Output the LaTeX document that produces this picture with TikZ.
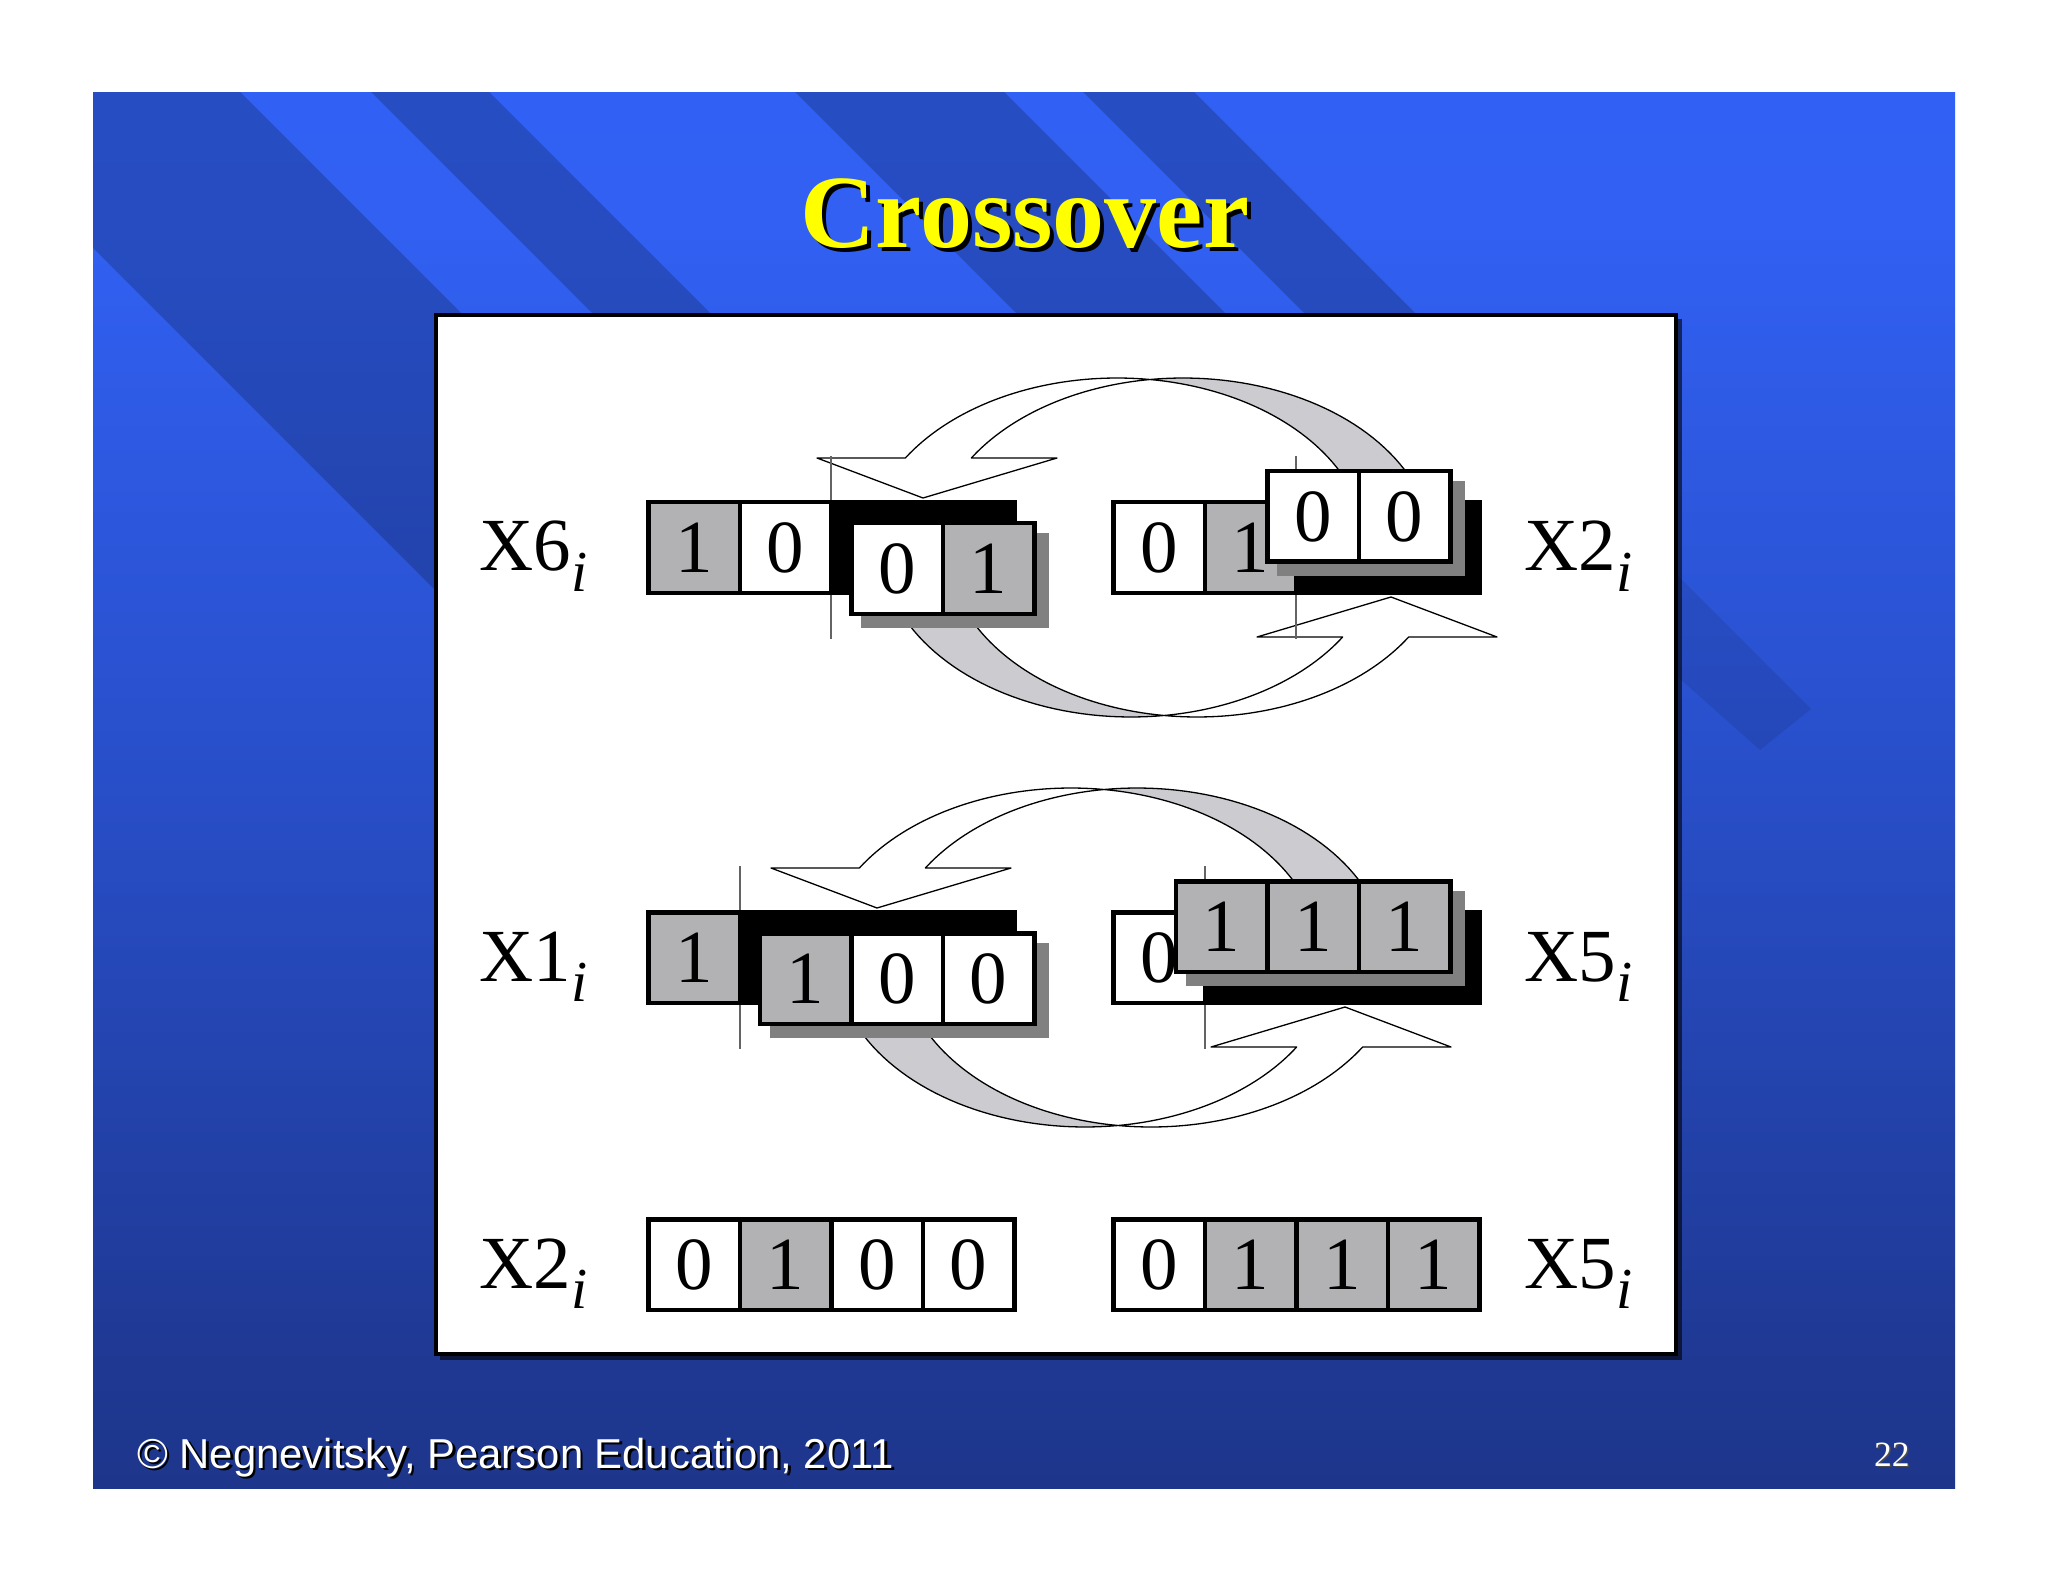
\documentclass[tikz,border=0pt]{standalone}
\usepackage{fontspec}
\setmainfont{Liberation Serif}
\newfontfamily\footfont{Liberation Sans}
\definecolor{cellgray}{RGB}{178,177,180}
\definecolor{shadowgray}{RGB}{128,128,128}
\definecolor{ribbongray}{RGB}{204,203,208}
\definecolor{cutgray}{RGB}{100,100,100}
\definecolor{bgA}{RGB}{51,102,255}
\definecolor{bgB}{RGB}{49,96,242}
\definecolor{bgC}{RGB}{40,78,200}
\definecolor{bgD}{RGB}{31,57,148}
\definecolor{bgE}{RGB}{25,44,114}
\definecolor{bgF}{RGB}{23,40,102}
\definecolor{titleyellow}{RGB}{255,255,0}
\pgfdeclareverticalshading{slidebg}{100bp}{color(0bp)=(bgF); color(12bp)=(bgE); color(30bp)=(bgD); color(50bp)=(bgC); color(70bp)=(bgB); color(100bp)=(bgA)}
\newcommand{\dgt}{\fontsize{37.5}{40}\selectfont}
\newcommand{\lblsub}[1]{\raisebox{-10pt}{\fontsize{29}{30}\selectfont\itshape #1}}
\newcommand{\ribbonhalf}{%
  \filldraw[ribbonline, fill=white]
    plot[domain=0:1, samples=40, variable=\t] ({-40+250*cos(212.15+65.44*\t)}, {1.5+171*sin(212.15+65.44*\t)})
    -- plot[domain=0:1, samples=40, variable=\t] ({26+250*cos(262.41-50.26*\t)}, {1.5+171*sin(262.41-50.26*\t)})
    -- (-100,-89.5) -- (-234,-49.5) -- (-340,-89.5) -- cycle;
  \filldraw[ribbonline, fill=ribbongray]
    plot[domain=0:1, samples=40, variable=\t] ({26+250*cos(262.41+82.59*\t)}, {1.5+171*sin(262.41+82.59*\t)})
    -- plot[domain=0:1, samples=40, variable=\t] ({-40+250*cos(345-67.41*\t)}, {1.5+171*sin(345-67.41*\t)})
    -- cycle;
}
\begin{document}
\begin{tikzpicture}[x=0.5pt,y=-0.5pt,
  cell/.style={draw=black, line width=2.25pt, minimum width=45.75pt, minimum height=45.25pt, inner sep=0pt, font=\dgt},
  cw/.style={cell, fill=white},
  cg/.style={cell, fill=cellgray},
  cb/.style={cell, fill=black},
  lbl/.style={anchor=base west, inner sep=0pt, font=\dgt},
  ribbonline/.style={draw=black, line width=0.65pt, line join=round},
  cutline/.style={draw=cutgray, line width=0.8pt},
  segshadow/.style={fill=shadowgray},
  stripe/.style={fill=black, opacity=0.2}]
\useasboundingbox (0,0) rectangle (2048,1582);
\fill[white] (0,0) rectangle (2048,1582);
% slide background
\shade[shading=slidebg] (93,93) rectangle (1955,1488);
\begin{scope}
  \clip (93,93) rectangle (1955,1488);
  \fill[stripe] (-155,0) -- (148,0) -- (1274,1126) -- (1122.5,1277.5) -- cycle;
  \fill[stripe] (279,0) -- (397,0) -- (1398.5,1001.5) -- (1339.5,1060.5) -- cycle;
  \fill[stripe] (703,0) -- (912,0) -- (1656,744) -- (1551.5,848.5) -- cycle;
  \fill[stripe] (991,0) -- (1102,0) -- (1650,548) -- (1595.5,604.5) -- cycle;
  \fill[black, opacity=0.09] (1640,538) -- (1811,709) -- (1760,750) -- (1585,594.5) -- cycle;
\end{scope}
% title
\node[anchor=base, inner sep=0pt, font=\fontsize{52}{56}\selectfont\bfseries, text=black] (titlesh) at (1029,252) {Crossover};
\node[anchor=base, inner sep=0pt, font=\fontsize{52}{56}\selectfont\bfseries, text=titleyellow] (title) at (1025,248) {Crossover};
% panel
\fill[black, opacity=0.6] (440,319) rectangle (1682,1360);
\draw[line width=2pt, fill=white] (436,315) rectangle (1676,1354);
% ---------------- row 1 ----------------
\begin{scope}[shift={(1157,547.5)}]
  \ribbonhalf
  \begin{scope}[rotate=180]\ribbonhalf\end{scope}
\end{scope}
\draw[cutline] (831.25,456) -- (831.25,639);
\draw[cutline] (1296.25,456) -- (1296.25,639);
\node[cg] (a1) at (694,547.5) {1};
\node[cw] (a2) at (785.5,547.5) {0};
\node[cb] (a3) at (877,547.5) {};
\node[cb] (a4) at (968.5,547.5) {};
\fill[segshadow] (861,533) rectangle (1048.5,628);
\node[cw] (a5) at (897,568.5) {0};
\node[cg] (a6) at (988.5,568.5) {1};
\node[cw] (b1) at (1159,547.5) {0};
\node[cg] (b2) at (1250.5,547.5) {1};
\node[cb] (b3) at (1342,547.5) {};
\node[cb] (b4) at (1433.5,547.5) {};
\fill[segshadow] (1277,481) rectangle (1464.5,576);
\node[cw] (b5) at (1313,516.5) {0};
\node[cw] (b6) at (1404.5,516.5) {0};
\node[lbl] (la) at (479,571) {X6\lblsub{i}};
\node[lbl] (lb) at (1524,571) {X2\lblsub{i}};
% ---------------- row 2 ----------------
\begin{scope}[shift={(1111,957.5)}]
  \ribbonhalf
  \begin{scope}[rotate=180]\ribbonhalf\end{scope}
\end{scope}
\draw[cutline] (739.75,866) -- (739.75,1049);
\draw[cutline] (1204.75,866) -- (1204.75,1049);
\node[cg] (c1) at (694,957.5) {1};
\node[cb] (c2) at (785.5,957.5) {};
\node[cb] (c3) at (877,957.5) {};
\node[cb] (c4) at (968.5,957.5) {};
\fill[segshadow] (769.5,943) rectangle (1048.5,1038);
\node[cg] (c5) at (805.5,978.5) {1};
\node[cw] (c6) at (897,978.5) {0};
\node[cw] (c7) at (988.5,978.5) {0};
\node[cw] (d1) at (1159,957.5) {0};
\node[cb] (d2) at (1250.5,957.5) {};
\node[cb] (d3) at (1342,957.5) {};
\node[cb] (d4) at (1433.5,957.5) {};
\fill[segshadow] (1185.5,891) rectangle (1464.5,986);
\node[cg] (d5) at (1221.5,926.5) {1};
\node[cg] (d6) at (1313,926.5) {1};
\node[cg] (d7) at (1404.5,926.5) {1};
\node[lbl] (lc) at (479,981) {X1\lblsub{i}};
\node[lbl] (ld) at (1524,981) {X5\lblsub{i}};
% ---------------- row 3 ----------------
\node[cw] (e1) at (694,1264.5) {0};
\node[cg] (e2) at (785.5,1264.5) {1};
\node[cw] (e3) at (877,1264.5) {0};
\node[cw] (e4) at (968.5,1264.5) {0};
\node[cw] (f1) at (1159,1264.5) {0};
\node[cg] (f2) at (1250.5,1264.5) {1};
\node[cg] (f3) at (1342,1264.5) {1};
\node[cg] (f4) at (1433.5,1264.5) {1};
\node[lbl] (le) at (479,1288) {X2\lblsub{i}};
\node[lbl] (lf) at (1524,1288) {X5\lblsub{i}};
% footer
\node[anchor=base west, inner sep=0pt, font=\footfont\fontsize{20.9}{22}\selectfont, text=black] (footsh) at (139.5,1470.5) {© Negnevitsky, Pearson Education, 2011};
\node[anchor=base west, inner sep=0pt, font=\footfont\fontsize{20.9}{22}\selectfont, text=white] (foot) at (137,1468) {© Negnevitsky, Pearson Education, 2011};
\node[anchor=base east, inner sep=0pt, font=\fontsize{17.75}{19}\selectfont, text=black!70] (pagesh) at (1911.5,1467.5) {22};
\node[anchor=base east, inner sep=0pt, font=\fontsize{17.75}{19}\selectfont, text=white] (page) at (1910,1466) {22};
\end{tikzpicture}
\end{document}
